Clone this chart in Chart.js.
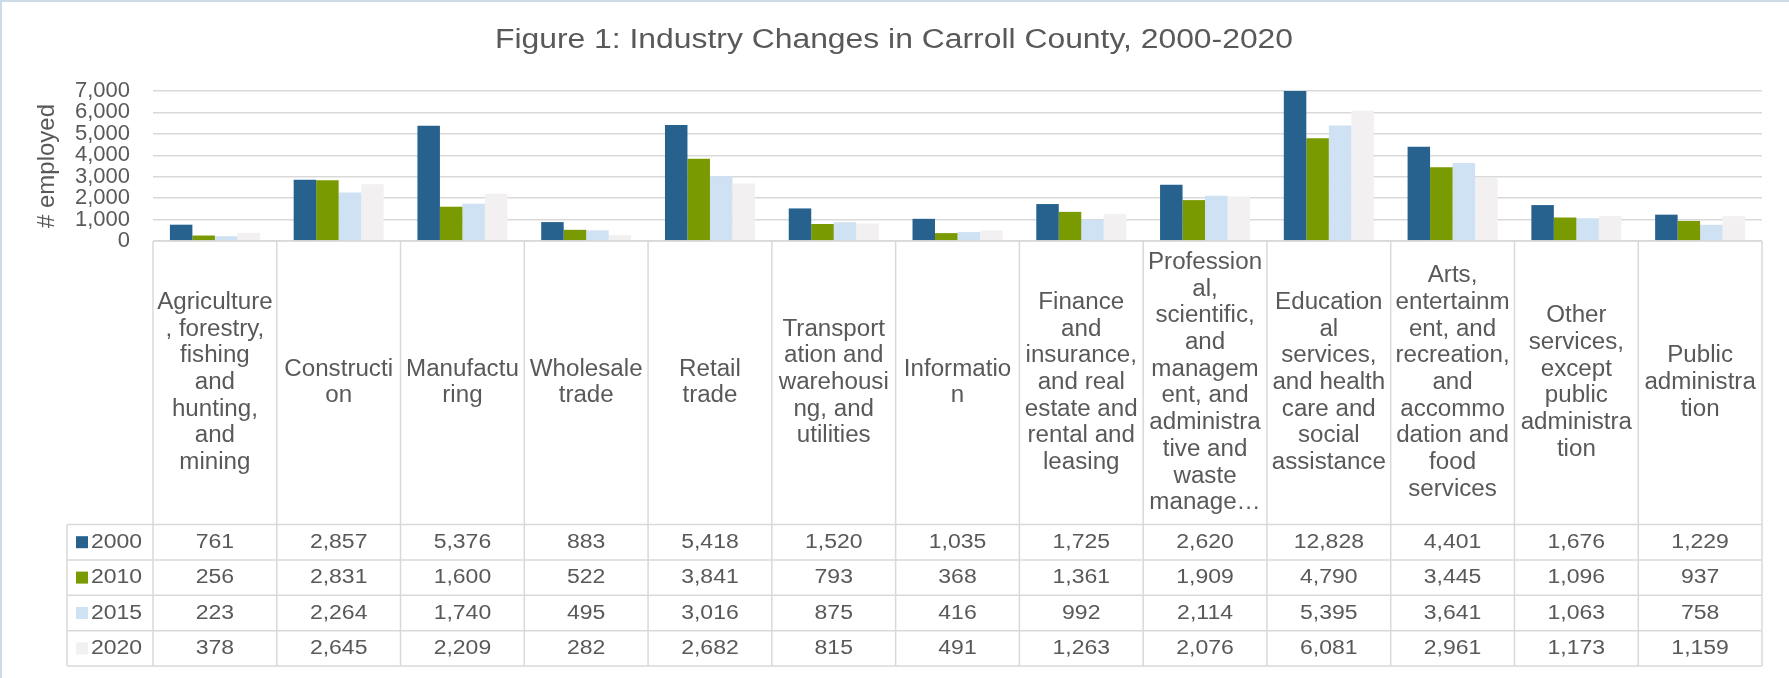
<!DOCTYPE html>
<html>
<head>
<meta charset="utf-8">
<script src="https://cdn.jsdelivr.net/npm/chart.js@4"></script>
<style>
  html, body { margin: 0; padding: 0; background: #fff; }
</style>
</head>
<body>
<canvas id="grafico" width="1789" height="678"></canvas>
<script>
// rótulos das categorias, já quebrados como aparecem na tabela
const categorias = [
  ['Agriculture', ', forestry,', 'fishing', 'and', 'hunting,', 'and', 'mining'],
  ['Constructi', 'on'],
  ['Manufactu', 'ring'],
  ['Wholesale', 'trade'],
  ['Retail', 'trade'],
  ['Transport', 'ation and', 'warehousi', 'ng, and', 'utilities'],
  ['Informatio', 'n'],
  ['Finance', 'and', 'insurance,', 'and real', 'estate and', 'rental and', 'leasing'],
  ['Profession', 'al,', 'scientific,', 'and', 'managem', 'ent, and', 'administra', 'tive and', 'waste', 'manage…'],
  ['Education', 'al', 'services,', 'and health', 'care and', 'social', 'assistance'],
  ['Arts,', 'entertainm', 'ent, and', 'recreation,', 'and', 'accommo', 'dation and', 'food', 'services'],
  ['Other', 'services,', 'except', 'public', 'administra', 'tion'],
  ['Public', 'administra', 'tion']
];

const anos = ['2000', '2010', '2015', '2020'];
const emp2000 = [761, 2857, 5376, 883, 5418, 1520, 1035, 1725, 2620, 12828, 4401, 1676, 1229];
const emp2010 = [256, 2831, 1600, 522, 3841, 793, 368, 1361, 1909, 4790, 3445, 1096, 937];
const emp2015 = [223, 2264, 1740, 495, 3016, 875, 416, 992, 2114, 5395, 3641, 1063, 758];
const emp2020 = [378, 2645, 2209, 282, 2682, 815, 491, 1263, 2076, 6081, 2961, 1173, 1159];
const series = [emp2000, emp2010, emp2015, emp2020];

const yMax = 7000;
const yPasso = 1000;

const cores = ['#27628F', '#7A9A01', '#CFE2F3', '#F2F0F1'];
const FONTE = '"Liberation Sans", Arial, sans-serif';
const CINZA = '#595959';
const LINHA = '#D9D9D9';
const SX = 1.15; // o texto do original é mais largo que o Arial normal

function texto(ctx, s, x, y, tam, alinha, base, sx) {
  ctx.save();
  ctx.font = tam + 'px ' + FONTE;
  ctx.translate(x, y);
  ctx.scale(sx || SX, 1);
  ctx.textAlign = alinha || 'center';
  ctx.textBaseline = base || 'middle';
  ctx.fillText(s, 0, 0);
  ctx.restore();
}

function linha(ctx, x1, y1, x2, y2) {
  ctx.beginPath();
  ctx.moveTo(x1, y1);
  ctx.lineTo(x2, y2);
  ctx.stroke();
}

const tabela = {
  id: 'tabela',
  beforeDraw(chart) {
    const ctx = chart.ctx;
    ctx.save();
    ctx.fillStyle = '#fff';
    ctx.fillRect(0, 0, chart.width, chart.height);
    ctx.fillStyle = '#CBDBE8';
    ctx.fillRect(0, 0, chart.width, 2);
    ctx.fillRect(0, 0, 2, chart.height);
    ctx.restore();
  },
  afterDraw(chart) {
    const { ctx, chartArea: a, scales: { x } } = chart;
    const passo = x.getPixelForValue(1) - x.getPixelForValue(0);
    const esq = x.getPixelForValue(0) - passo / 2;
    const dir = esq + passo * categorias.length;
    const topoTab = 524.5;
    const alt = 35.4;
    const legEsq = 67;

    ctx.save();
    ctx.strokeStyle = LINHA;
    ctx.lineWidth = 1.5;
    linha(ctx, esq, a.bottom, dir, a.bottom);
    for (let i = 0; i <= 4; i++) linha(ctx, legEsq, topoTab + i * alt, dir, topoTab + i * alt);
    for (let i = 0; i <= categorias.length; i++) {
      const xx = esq + i * passo;
      linha(ctx, xx, a.bottom, xx, topoTab + 4 * alt);
    }
    linha(ctx, legEsq, topoTab, legEsq, topoTab + 4 * alt);

    ctx.fillStyle = CINZA;
    const meio = (a.bottom + topoTab) / 2;
    categorias.forEach((linhas, i) => {
      const cx = x.getPixelForValue(i);
      linhas.forEach((l, j) => {
        texto(ctx, l, cx, meio + (j - (linhas.length - 1) / 2) * 26.7, 23, 'center', 'middle', 1.05);
      });
    });

    series.forEach((s, r) => {
      const cy = topoTab + (r + 0.5) * alt;
      ctx.fillStyle = cores[r];
      ctx.fillRect(76, cy - 6, 12, 12);
      ctx.fillStyle = CINZA;
      texto(ctx, anos[r], 91, cy, 20, 'left');
      s.forEach((v, i) => texto(ctx, v.toLocaleString('en-US'), x.getPixelForValue(i), cy, 20));
    });

    texto(ctx, 'Figure 1: Industry Changes in Carroll County, 2000-2020', 894, 48, 27, 'center', 'alphabetic', 1.18);
    ctx.restore();
  }
};

new Chart(document.getElementById('grafico'), {
  type: 'bar',
  data: {
    labels: categorias.map(c => c.join(' ')),
    datasets: series.map((s, i) => ({
      label: anos[i],
      data: s,
      backgroundColor: cores[i],
      borderWidth: 0,
      categoryPercentage: 0.727,
      barPercentage: 1
    }))
  },
  options: {
    responsive: false,
    animation: false,
    devicePixelRatio: 1,
    layout: { padding: { top: 91, bottom: 437, left: 0, right: 27 } },
    plugins: {
      legend: { display: false },
      tooltip: { enabled: false },
      title: { display: false }
    },
    scales: {
      x: { display: false },
      y: {
        min: 0,
        max: yMax,
        afterFit(scale) { scale.width = 153; },
        ticks: {
          stepSize: yPasso,
          autoSkip: false,
          padding: 23,
          color: CINZA,
          font: { family: FONTE, size: 22 },
          callback: v => v.toLocaleString('en-US')
        },
        grid: { color: LINHA, lineWidth: 1.5, drawTicks: false },
        border: { display: false },
        title: {
          display: true,
          text: '# employed',
          color: CINZA,
          font: { family: FONTE, size: 24 },
          padding: { top: 33, bottom: 0 }
        }
      }
    }
  },
  plugins: [tabela]
});
</script>
</body>
</html>
